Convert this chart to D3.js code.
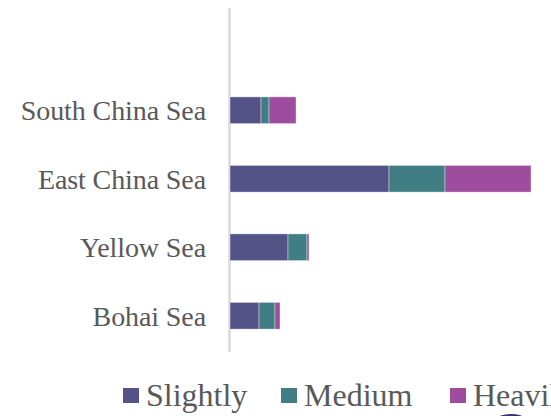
<!DOCTYPE html>
<html><head><meta charset="utf-8">
<script src="https://cdn.jsdelivr.net/npm/d3@7"></script>
<style>body{margin:0;background:#fff}svg{display:block}</style>
</head><body>
<svg id="c" width="551" height="416"></svg>
<script>
const categories = ["Bohai Sea", "Yellow Sea", "East China Sea", "South China Sea"];
const seriesNames = ["Slightly", "Medium", "Heavily"];
const slightly = [29, 58, 159, 31];
const medium = [16, 19, 56, 8];
const heavily = [5, 2, 86, 27];
const colors = ["#545388", "#417E83", "#9E4D9E"];

const rows = categories.map((c, i) => ({cat: c, Slightly: slightly[i], Medium: medium[i], Heavily: heavily[i]}));
const stack = d3.stack().keys(seriesNames)(rows);

const svg = d3.select("#c");
const x = d3.scaleLinear().domain([0, 300]).range([230, 530]);
const y = d3.scaleBand().domain(categories.slice().reverse()).range([76, 350]).paddingInner(0.61).paddingOuter(0.305);

svg.append("line").attr("x1", 229.5).attr("x2", 229.5).attr("y1", 8).attr("y2", 352)
  .attr("stroke", "#d9d9d9").attr("stroke-width", 2.5);

svg.append("g").selectAll("g").data(stack).join("g")
  .attr("fill", (d, i) => colors[i])
  .selectAll("rect").data(d => d).join("rect")
  .attr("x", d => x(d[0]))
  .attr("width", d => x(d[1]) - x(d[0]))
  .attr("y", d => y(d.data.cat))
  .attr("height", y.bandwidth())
  .attr("stroke", "#ffffff").attr("stroke-opacity", 0.5).attr("stroke-width", 0.75);

svg.append("g").selectAll("text").data(categories).join("text")
  .attr("x", 206).attr("y", d => y(d) + y.bandwidth() / 2)
  .attr("dy", "0.35em").attr("text-anchor", "end")
  .style("font-family", "\"Liberation Serif\", serif")
  .attr("font-size", 28).attr("fill", "#595959").attr("letter-spacing", -0.1)
  .text(d => d);

const legendX = [123, 281, 450];
const lg = svg.append("g");
seriesNames.forEach((s, i) => {
  lg.append("rect").attr("x", legendX[i]).attr("y", 388).attr("width", 16).attr("height", 15).attr("fill", colors[i]);
  lg.append("text").attr("x", legendX[i] + 23).attr("y", 406)
    .style("font-family", "\"Liberation Serif\", serif")
    .attr("font-size", 32).attr("fill", "#595959").text(s);
});

svg.append("ellipse").attr("cx", 511).attr("cy", 432).attr("rx", 24).attr("ry", 18).attr("fill", "#3b2c7c");
</script>
</body></html>
